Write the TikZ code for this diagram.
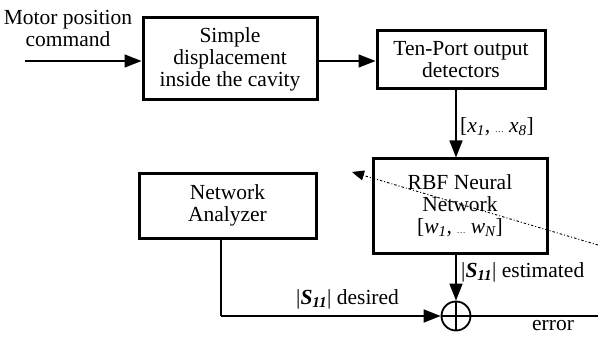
\documentclass[tikz,border=0pt]{standalone}
\usepackage{fontspec}
\setmainfont{Liberation Serif}
\usetikzlibrary{arrows.meta}
\begin{document}
\begin{tikzpicture}[x=1pt,y=-1pt,
  blk/.style={draw,line width=3pt,align=center,inner sep=0pt,font=\fontsize{21.5}{22}\selectfont},
  lbl/.style={font=\fontsize{21.5}{22}\selectfont,inner sep=0pt},
  conn/.style={line width=1.5pt,-{Triangle[length=17pt,width=13pt]}},
  plain/.style={line width=1.5pt}]
\useasboundingbox (0,0) rectangle (598,337);
\node[blk,minimum width=174pt,minimum height=82pt] (disp) at (230,59) {Simple\\displacement\\inside the cavity};
\node[blk,minimum width=168pt,minimum height=58pt] (tp) at (461,60) {Ten-Port output\\detectors};
\node[blk,minimum width=174pt,minimum height=94pt] (rbf) at (460,206) {RBF Neural\\Network\\{}[\textit{w\textsubscript{1}, {\small\ldots} w\textsubscript{N}}]};
\node[blk,minimum width=177pt,minimum height=65pt] (na) at (227.5,205.5) {Network\\Analyzer};
\node[draw,circle,line width=1.8pt,minimum size=29pt,inner sep=0pt] (sum) at (456,316) {};
\draw[line width=1.8pt] (sum.north) -- (sum.south) (sum.west) -- (sum.east);
\node[lbl,align=center] (cmd) at (68,28) {Motor position\\command};
\coordinate (in) at (25,61);
\coordinate (out) at (598,316);
\coordinate (tap) at (221,316);
\coordinate (dstart) at (598,245);
\coordinate (dend) at (352,172);
\draw[conn] (in) -- (in -| disp.west);
\draw[conn] (disp.east |- in) -- (tp.west |- in);
\draw[conn] (tp.south -| sum) -- (rbf.north -| sum);
\draw[conn] (rbf.south -| sum) -- (sum.north);
\draw[plain] (na.south -| tap) -- (tap);
\draw[conn] (tap) -- (sum.west);
\draw[plain] (sum.east) -- (out);
\draw[line width=0.9pt,dash pattern=on 2.5pt off 2pt on 1pt off 2pt,-{Triangle[length=12pt,width=10pt]}] (dstart) -- (dend);
\node[lbl,anchor=west] (xl) at (460,127) {[\textit{x\textsubscript{1}, {\small\ldots} x\textsubscript{8}}]};
\node[lbl,anchor=west] (est) at (461,272) {|\textbf{\textit{S\textsubscript{11}}}| estimated};
\node[lbl,anchor=west] (des) at (296,299) {|\textbf{\textit{S\textsubscript{11}}}| desired};
\node[lbl,anchor=west] (err) at (532,326) {error};
\end{tikzpicture}
\end{document}
